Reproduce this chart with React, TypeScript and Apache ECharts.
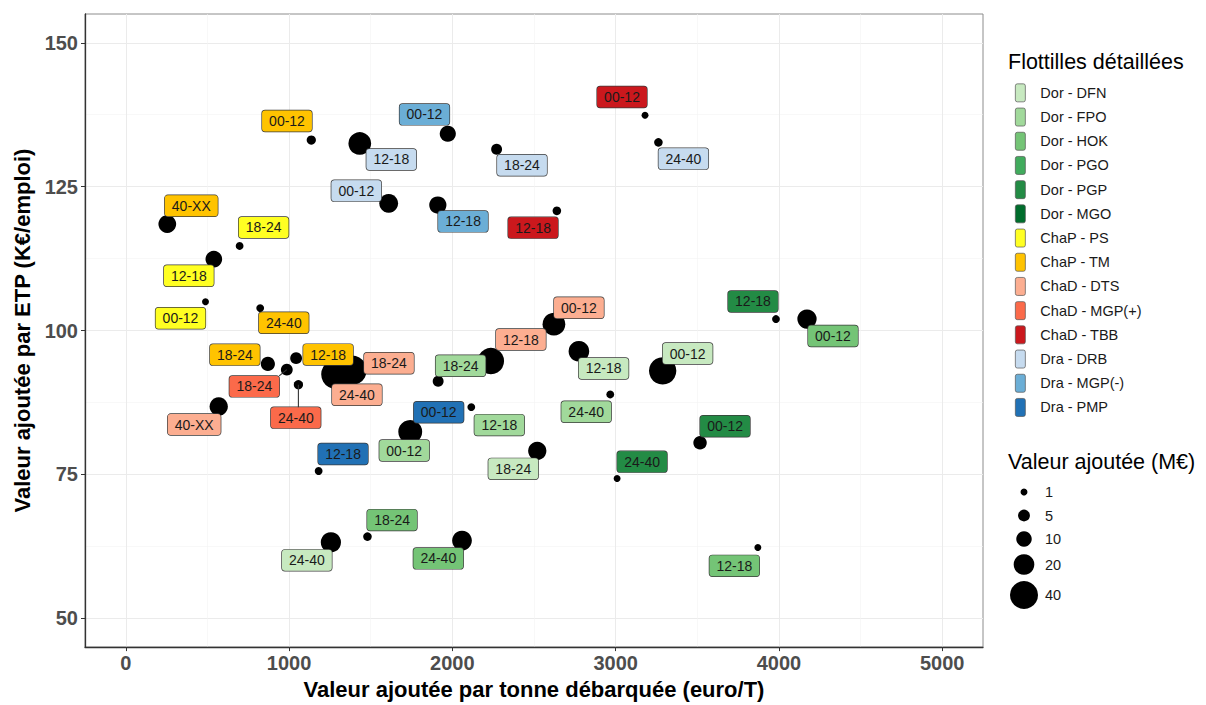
import React, { useEffect, useRef } from 'react';
import * as echarts from 'echarts';

// ---------- data ----------
const fleets = [
  'Dor - DFN', 'Dor - FPO', 'Dor - HOK', 'Dor - PGO', 'Dor - PGP', 'Dor - MGO',
  'ChaP - PS', 'ChaP - TM',
  'ChaD - DTS', 'ChaD - MGP(+)', 'ChaD - TBB',
  'Dra - DRB', 'Dra - MGP(-)', 'Dra - PMP',
];
const fleetColors = [
  '#c7e9c0', '#a1d99b', '#74c476', '#41ab5d', '#238b45', '#006d2c',
  '#ffff22', '#ffc300',
  '#fcae91', '#fb6a4a', '#cb181d',
  '#c6dbef', '#6baed6', '#2171b5',
];

const pointFleet = [
  'ChaP - PS', 'ChaP - PS', 'ChaP - PS',
  'ChaP - TM', 'ChaP - TM', 'ChaP - TM', 'ChaP - TM', 'ChaP - TM',
  'ChaD - DTS', 'ChaD - DTS', 'ChaD - DTS', 'ChaD - DTS', 'ChaD - DTS',
  'ChaD - MGP(+)', 'ChaD - MGP(+)',
  'ChaD - TBB', 'ChaD - TBB',
  'Dra - DRB', 'Dra - DRB', 'Dra - DRB', 'Dra - DRB',
  'Dra - MGP(-)', 'Dra - MGP(-)',
  'Dra - PMP', 'Dra - PMP',
  'Dor - DFN', 'Dor - DFN', 'Dor - DFN', 'Dor - DFN',
  'Dor - FPO', 'Dor - FPO', 'Dor - FPO', 'Dor - FPO',
  'Dor - HOK', 'Dor - HOK', 'Dor - HOK', 'Dor - HOK',
  'Dor - PGP', 'Dor - PGP', 'Dor - PGP',
];
const pointLength = [
  '00-12', '12-18', '18-24',
  '00-12', '12-18', '18-24', '24-40', '40-XX',
  '00-12', '12-18', '18-24', '24-40', '40-XX',
  '18-24', '24-40',
  '00-12', '12-18',
  '00-12', '12-18', '18-24', '24-40',
  '00-12', '12-18',
  '00-12', '12-18',
  '00-12', '12-18', '18-24', '24-40',
  '00-12', '12-18', '18-24', '24-40',
  '00-12', '12-18', '18-24', '24-40',
  '00-12', '12-18', '24-40',
];
// Valeur ajoutée par tonne débarquée (euro/T)
const vaPerTonne = [
  488, 539, 697,
  1136, 1043, 870, 823, 254,
  2622, 2236, 1385, 1287, 569,
  986, 1057,
  3180, 2640,
  1610, 1433, 2271, 3262,
  1972, 1911,
  1748, 1181,
  3288, 2775, 2520, 1256,
  1742, 2116, 1913, 2967,
  4172, 3871, 1480, 2059,
  3517, 3982, 3009,
];
// Valeur ajoutée par ETP (K€/emploi)
const vaPerEtp = [
  105.0, 112.4, 114.7,
  133.1, 95.2, 94.2, 103.9, 118.5,
  101.1, 94.7, 93.1, 92.4, 86.8,
  93.2, 90.6,
  137.4, 120.8,
  122.1, 132.5, 131.5, 132.7,
  134.2, 121.8,
  82.8, 75.6,
  93.0, 96.4, 79.1, 63.2,
  82.4, 86.7, 91.2, 88.9,
  102.0, 62.3, 64.2, 63.5,
  80.5, 102.0, 74.3,
];
// Valeur ajoutée (M€)
const vaTotal = [
  1, 12, 1.5,
  2.5, 5, 8, 1.5, 14,
  25, 35, 45, 45, 15,
  5, 2.5,
  1, 2,
  16, 25, 4, 2,
  11, 13,
  10, 1.5,
  38, 20, 15, 19,
  28, 1.5, 4, 1.5,
  17, 1, 2, 18,
  7, 1.5, 1,
];

// label placement (pixel nudges from each point, like ggrepel's result)
const labelNudge: [number, number][] = [
  [-25, 16.5], [-25, 16.5], [24, -18.5],
  [-24.3, -19], [32, -3.6], [-33, -9.3], [23.6, 14.7], [24, -18.3],
  [25, -16.4], [30, -21.5], [37, -7], [21, 20.5], [-24.5, 18],
  [-32.5, 16.7], [-2.6, 33],
  [-23, -18.3], [-23.8, 16.8],
  [-32.4, -12.7], [31.5, 16], [25.4, 16], [25, 16.3],
  [-23.3, -19.3], [25.2, 16.3],
  [27.5, -17.3], [24.4, -17],
  [25, -17.3], [24.7, 17.2], [-24, 18], [-24, 18],
  [-6, 18.7], [28, 18], [22.4, -15.4], [-24, 17.3],
  [26, 17], [-23.5, 18.3], [24.6, -16.5], [-23.7, 17.8],
  [25, -16.6], [-23, -17.6], [25, -16.8],
];
const withSegment = [13, 14];

const xTicks = [0, 1000, 2000, 3000, 4000, 5000];
const yTicks = [50, 75, 100, 125, 150];
const sizeLegendValues = [1, 5, 10, 20, 40];
const sizeLegendY = [492, 515.5, 539, 564.5, 595];

const FONT = '"Liberation Sans", Arial, Helvetica, sans-serif';
const LABEL_FONT = 14;
const LABEL_PAD_X = 7;
const LABEL_H = 21;
const dotDiameter = (v: number) => 3 + 3.95 * Math.sqrt(v);
const KEY_ICON = 'path://M2,0 H8 Q10,0 10,2 V16 Q10,18 8,18 H2 Q0,18 0,16 V2 Q0,0 2,0 Z';

export default function App() {
  const ref = useRef<HTMLDivElement>(null);

  useEffect(() => {
    if (!ref.current) return;
    const chart = echarts.init(ref.current, undefined, { renderer: 'svg' });
    const idx = vaPerTonne.map((_, i) => i);

    const labelSeries = fleets.map((f, fi) => ({
      type: 'scatter',
      name: f,
      z: 3,
      silent: true,
      symbolSize: 0.01,
      itemStyle: { color: fleetColors[fi], opacity: 1 },
      label: {
        show: true,
        position: 'inside',
        formatter: '{b}',
        fontSize: LABEL_FONT,
        fontFamily: FONT,
        color: '#1a1a1a',
        backgroundColor: fleetColors[fi],
        borderColor: '#3a3a3a',
        borderWidth: 0.7,
        borderRadius: 3,
        padding: [3, LABEL_PAD_X, 3, LABEL_PAD_X],
        lineHeight: 15,
        opacity: 1,
      },
      data: idx
        .filter((i) => pointFleet[i] === f)
        .map((i) => ({
          name: pointLength[i],
          value: [vaPerTonne[i], vaPerEtp[i]],
          label: { offset: labelNudge[i] },
        })),
    }));

    const graphics: any[] = [
      {
        type: 'text', left: 1008, top: 51,
        style: { text: 'Flottilles détaillées', fontSize: 21.5, fontFamily: FONT, fill: '#000' },
      },
      {
        type: 'text', left: 1008, top: 451,
        style: { text: 'Valeur ajoutée (M€)', fontSize: 21.5, fontFamily: FONT, fill: '#000' },
      },
    ];
    sizeLegendValues.forEach((v, k) => {
      graphics.push({
        type: 'circle',
        shape: { cx: 1024, cy: sizeLegendY[k], r: dotDiameter(v) / 2 },
        style: { fill: '#000' },
      });
      graphics.push({
        type: 'text', x: 1045, y: sizeLegendY[k],
        style: { text: String(v), fontSize: 14.5, fontFamily: FONT, fill: '#1a1a1a', verticalAlign: 'middle' },
      });
    });

    const option: any = {
      animation: false,
      textStyle: { fontFamily: FONT },
      grid: {
        left: 85, right: 223, top: 14, bottom: 55,
        show: true, borderColor: '#8c8c8c', borderWidth: 1, backgroundColor: '#fff',
      },
      xAxis: {
        type: 'value', min: -250, max: 5250, minInterval: 1000, maxInterval: 1000,
        name: 'Valeur ajoutée par tonne débarquée (euro/T)',
        nameLocation: 'middle', nameGap: 29,
        nameTextStyle: { fontSize: 22, fontWeight: 'bold', color: '#000', fontFamily: FONT },
        axisLine: { show: true, onZero: false, lineStyle: { color: '#333', width: 1.3 } },
        axisTick: { show: true, length: 4, customValues: xTicks, lineStyle: { color: '#333' } },
        axisLabel: {
          customValues: xTicks,
          formatter: (v: number) => String(v),
          fontSize: 20, fontWeight: 'bold', color: '#4d4d4d', margin: 6, fontFamily: FONT,
        },
        splitLine: { show: true, lineStyle: { color: '#ebebeb', width: 1 } },
        minorTick: { show: false, splitNumber: 2 },
        minorSplitLine: { show: true, lineStyle: { color: '#f4f4f4', width: 0.6 } },
      },
      yAxis: {
        type: 'value', min: 45, max: 155, minInterval: 25, maxInterval: 25,
        name: 'Valeur ajoutée par ETP (K€/emploi)',
        nameLocation: 'middle', nameGap: 52,
        nameTextStyle: { fontSize: 22, fontWeight: 'bold', color: '#000', fontFamily: FONT },
        axisLine: { show: true, onZero: false, lineStyle: { color: '#333', width: 1.3 } },
        axisTick: { show: true, length: 4, customValues: yTicks, lineStyle: { color: '#333' } },
        axisLabel: {
          customValues: yTicks,
          formatter: (v: number) => String(v),
          fontSize: 20, fontWeight: 'bold', color: '#4d4d4d', margin: 7, fontFamily: FONT,
        },
        splitLine: { show: true, lineStyle: { color: '#ebebeb', width: 1 } },
        minorTick: { show: false, splitNumber: 2 },
        minorSplitLine: { show: true, lineStyle: { color: '#f4f4f4', width: 0.6 } },
      },
      legend: {
        data: fleets.map((name) => ({ name, icon: KEY_ICON })),
        orient: 'vertical',
        left: 1015, top: 83.5,
        padding: 0,
        itemWidth: 10, itemHeight: 18, itemGap: 5.5,
        selectedMode: false,
        itemStyle: { borderColor: '#555', borderWidth: 0.7, opacity: 1 },
        textStyle: { fontSize: 14.5, color: '#1a1a1a', fontFamily: FONT, padding: [0, 0, 0, 10] },
      },
      graphic: graphics,
      series: [
        {
          type: 'scatter',
          name: 'points',
          z: 2,
          silent: true,
          symbolSize: (val: number[]) => dotDiameter(val[2]),
          itemStyle: { color: '#000', opacity: 1 },
          data: idx.map((i) => [vaPerTonne[i], vaPerEtp[i], vaTotal[i]]),
        },
        ...labelSeries,
      ],
    };
    chart.setOption(option);

    // ggrepel-like segments: from the point to the nearest edge of its label box
    const segs = withSegment.map((i) => {
      const p = chart.convertToPixel({ gridIndex: 0 }, [vaPerTonne[i], vaPerEtp[i]]) as number[];
      const probe = new echarts.graphic.Text({
        style: { text: pointLength[i], fontSize: LABEL_FONT, fontFamily: FONT },
      });
      const halfW = (probe.getBoundingRect().width + 2 * LABEL_PAD_X) / 2;
      const cx = p[0] + labelNudge[i][0];
      const cy = p[1] + labelNudge[i][1];
      const ex = Math.min(Math.max(p[0], cx - halfW), cx + halfW);
      const ey = Math.min(Math.max(p[1], cy - LABEL_H / 2), cy + LABEL_H / 2);
      return {
        type: 'line',
        z: 4,
        shape: { x1: p[0], y1: p[1], x2: ex, y2: ey },
        style: { stroke: '#333', lineWidth: 1.1 },
      };
    });
    chart.setOption({ graphic: [...graphics, ...segs] });

    return () => chart.dispose();
  }, []);

  return (
    <div
      ref={ref}
      style={{ position: 'fixed', left: 0, top: 0, width: 1206, height: 705, background: '#fff' }}
    />
  );
}
